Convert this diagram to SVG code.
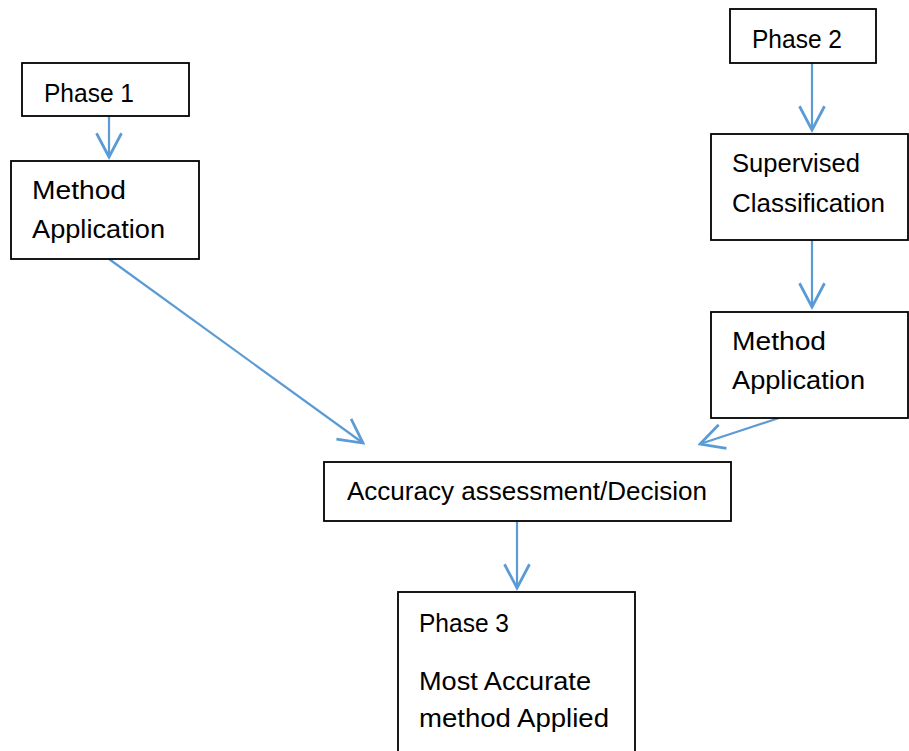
<svg xmlns="http://www.w3.org/2000/svg" width="909" height="751" viewBox="0 0 909 751">
<style>
.box{fill:#fff;stroke:#000;stroke-width:1.8}
.t{font-family:"Liberation Sans",Arial,sans-serif;font-size:25.5px;fill:#000}
.c{fill:none;stroke:#5B9BD5;stroke-width:2.2}
</style>
<defs>
<marker id="ah" markerUnits="userSpaceOnUse" markerWidth="30" markerHeight="30" viewBox="-22 -12 24 24" refX="0" refY="0" orient="auto">
<path d="M-19,-10 L0,0 L-19,10" fill="none" stroke="#5B9BD5" stroke-width="2.2"/>
</marker>
</defs>
<rect width="909" height="751" fill="#fff"/>
<g id="connectors">
<line class="c" x1="109" y1="116" x2="109" y2="157" marker-end="url(#ah)"/>
<line class="c" x1="812" y1="63" x2="812" y2="130" marker-end="url(#ah)"/>
<line class="c" x1="812" y1="240" x2="812" y2="307" marker-end="url(#ah)"/>
<line class="c" x1="109" y1="259" x2="363" y2="443" marker-end="url(#ah)"/>
<line class="c" x1="779" y1="418" x2="700" y2="444" marker-end="url(#ah)"/>
<line class="c" x1="517" y1="521" x2="517" y2="588" marker-end="url(#ah)"/>
</g>
<g id="phase1">
<rect class="box" x="22" y="63" width="167" height="53"/>
<text class="t" x="44" y="102" textLength="90" lengthAdjust="spacingAndGlyphs">Phase 1</text>
</g>
<g id="method1">
<rect class="box" x="11" y="161" width="188" height="98"/>
<text class="t" x="32" y="199" textLength="94" lengthAdjust="spacingAndGlyphs">Method</text>
<text class="t" x="32" y="238" textLength="133" lengthAdjust="spacingAndGlyphs">Application</text>
</g>
<g id="phase2">
<rect class="box" x="730" y="9" width="146" height="54"/>
<text class="t" x="752" y="48" textLength="90" lengthAdjust="spacingAndGlyphs">Phase 2</text>
</g>
<g id="supervised">
<rect class="box" x="711" y="134" width="197" height="106"/>
<text class="t" x="732" y="172" textLength="128" lengthAdjust="spacingAndGlyphs">Supervised</text>
<text class="t" x="732" y="212" textLength="153" lengthAdjust="spacingAndGlyphs">Classification</text>
</g>
<g id="method2">
<rect class="box" x="711" y="312" width="197" height="106"/>
<text class="t" x="732" y="350" textLength="94" lengthAdjust="spacingAndGlyphs">Method</text>
<text class="t" x="732" y="389" textLength="133" lengthAdjust="spacingAndGlyphs">Application</text>
</g>
<g id="accuracy">
<rect class="box" x="324" y="462" width="407" height="59"/>
<text class="t" x="347" y="500" textLength="360" lengthAdjust="spacingAndGlyphs">Accuracy assessment/Decision</text>
</g>
<g id="phase3">
<rect class="box" x="398" y="592" width="237" height="170"/>
<text class="t" x="419" y="632" textLength="90" lengthAdjust="spacingAndGlyphs">Phase 3</text>
<text class="t" x="419" y="690" textLength="172" lengthAdjust="spacingAndGlyphs">Most Accurate</text>
<text class="t" x="419" y="727" textLength="190" lengthAdjust="spacingAndGlyphs">method Applied</text>
</g>
</svg>
